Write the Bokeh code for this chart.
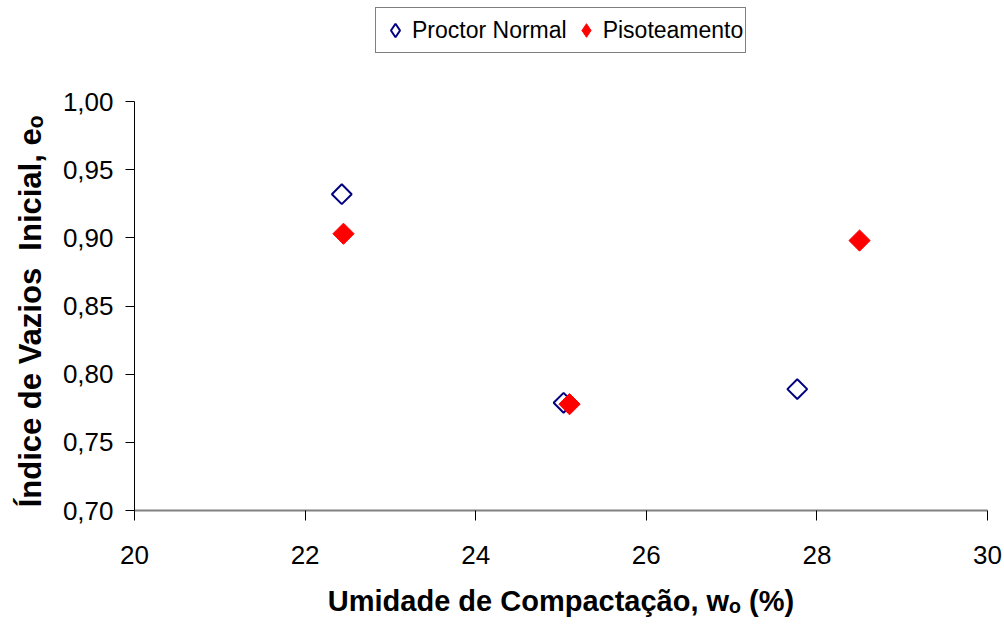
import numpy as np
from bokeh.plotting import figure
from bokeh.models import (FixedTicker, CustomJSTickFormatter, Legend, LegendItem,
                          Range1d, ColumnDataSource)
from bokeh.embed import file_html
from bokeh.resources import INLINE

# data
proctor_w = [22.43, 25.03, 27.77]
proctor_e = [0.932, 0.779, 0.789]
piso_w = [22.45, 25.10, 28.50]
piso_e = [0.903, 0.778, 0.898]
x_ticks = [20, 22, 24, 26, 28, 30]
y_ticks = [0.70, 0.75, 0.80, 0.85, 0.90, 0.95, 1.00]
series_names = ["Proctor Normal", "Pisoteamento"]

FONT = "Liberation Sans"
NB = "\u00a0"

# layout (pixels): the plotting frame is extended upward so the legend sits inside it
FRAME_H = 510          # frame height in px (top of canvas to the x axis)
AXIS_H = 409           # px spanned by the 0.70 .. 1.00 axis
y0, y1 = min(y_ticks), max(y_ticks)
y_top = y0 + (y1 - y0) * FRAME_H / AXIS_H

p = figure(width=1004, height=629, output_backend="svg", toolbar_location=None,
           x_range=Range1d(min(x_ticks), max(x_ticks)), y_range=Range1d(y0, y_top),
           min_border_left=134, min_border_right=17, min_border_top=0, min_border_bottom=119)
p.outline_line_color = None
p.xgrid.visible = False
p.ygrid.visible = False
p.background_fill_color = "white"
p.border_fill_color = "white"

r1 = p.scatter(proctor_w, proctor_e, marker="square", angle=np.pi / 4, size=14,
               fill_color=None, line_color="#000080", line_width=2)
r2 = p.scatter(piso_w, piso_e, marker="square", angle=np.pi / 4, size=15,
               fill_color="#FF0000", line_color="#FF0000", line_width=1)

# legend-only glyphs (a single non-plottable point each)
dummy = ColumnDataSource(data=dict(x=[np.nan], y=[np.nan]))
l1 = p.scatter("x", "y", source=dummy, marker="diamond",
               fill_color=None, line_color="#000080", line_width=2)
l2 = p.scatter("x", "y", source=dummy, marker="diamond",
               fill_color="#FF0000", line_color="#FF0000", line_width=1)

fmt = CustomJSTickFormatter(code="return tick.toFixed(2).replace('.', ',');")

xa = p.xaxis[0]
xa.ticker = FixedTicker(ticks=x_ticks)
xa.minor_tick_line_color = None
xa.major_tick_in = 0
xa.major_tick_out = 10
xa.major_tick_line_color = "black"
xa.axis_line_color = "#808080"
xa.axis_line_width = 2
xa.major_label_text_font = FONT
xa.major_label_text_font_size = "26px"
xa.major_label_text_color = "black"
xa.major_label_standoff = 25
xa.axis_label = "Umidade de Compactação, wₒ (%)"
xa.axis_label_text_font = FONT
xa.axis_label_text_font_style = "bold"
xa.axis_label_text_font_size = "29px"
xa.axis_label_text_color = "black"
xa.axis_label_standoff = 18

ya = p.yaxis[0]
ya.ticker = FixedTicker(ticks=y_ticks)
ya.bounds = (y0, y1)
ya.formatter = fmt
ya.minor_tick_line_color = None
ya.major_tick_in = 0
ya.major_tick_out = 9
ya.axis_line_color = "black"
ya.major_label_text_font = FONT
ya.major_label_text_font_size = "26px"
ya.major_label_text_color = "black"
ya.major_label_standoff = 12
# trailing no-break spaces keep the visible title centred on the 0.70-1.00 span
ya.axis_label = "Índice de Vazios" + NB + " Inicial, eₒ" + NB * 13
ya.axis_label_text_font = FONT
ya.axis_label_text_font_style = "bold"
ya.axis_label_text_font_size = "31px"
ya.axis_label_text_color = "black"
ya.axis_label_standoff = 12

legend = Legend(items=[LegendItem(label=series_names[0], renderers=[l1]),
                       LegendItem(label=series_names[1], renderers=[l2])],
                orientation="horizontal", location=(241, 457))
legend.border_line_color = "black"
legend.border_line_width = 1
legend.background_fill_color = "white"
legend.background_fill_alpha = 1
legend.label_text_font = FONT
legend.label_text_font_size = "23px"
legend.label_text_color = "black"
legend.padding = 2
legend.margin = 0
legend.spacing = 2
legend.label_standoff = 0
legend.glyph_width = 34
legend.glyph_height = 40
p.add_layout(legend, "center")

open("out.html", "w").write(file_html(p, INLINE))
